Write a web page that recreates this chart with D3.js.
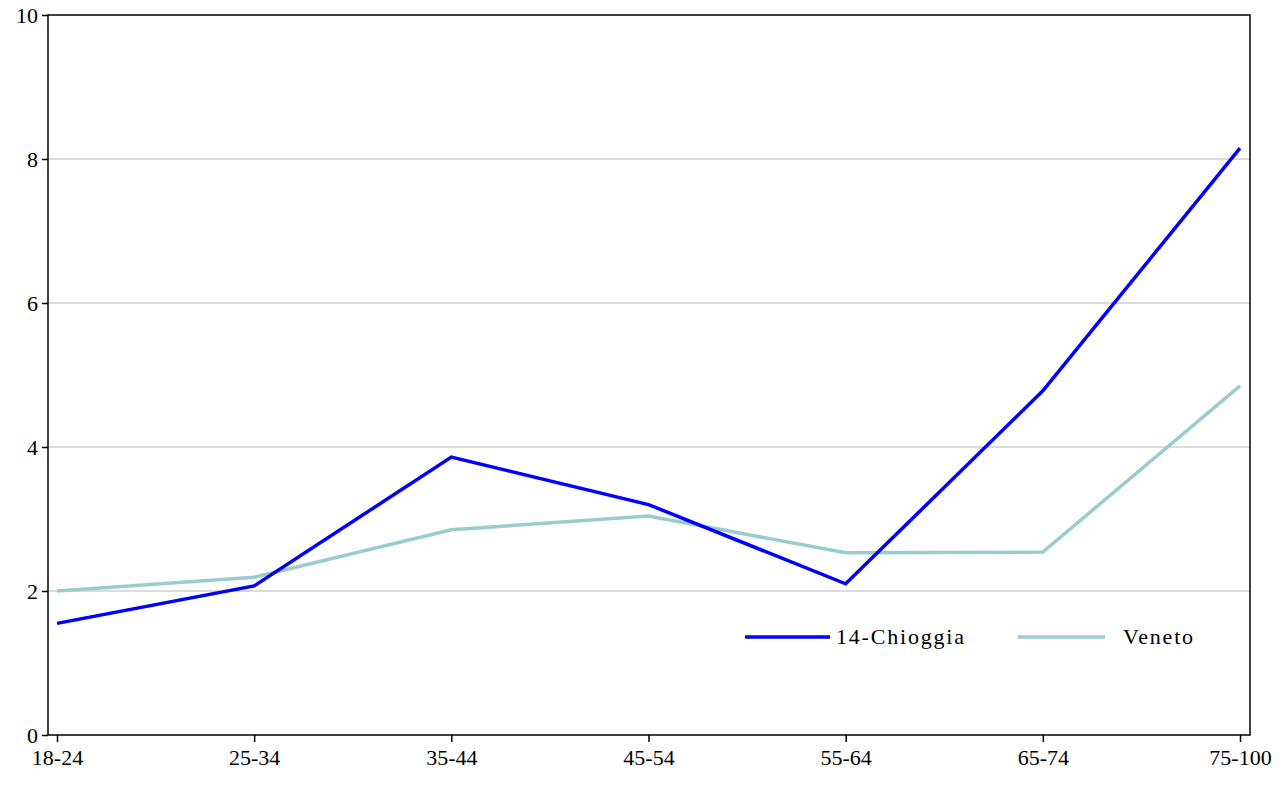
<!DOCTYPE html>
<html>
<head>
<meta charset="UTF-8">
<script src="https://cdn.jsdelivr.net/npm/d3@7"></script>
<style>
  body { margin: 0; background: #fff; }
  text { font-family: 'Liberation Serif', 'Times New Roman', serif; }
</style>
</head>
<body>
<svg id="chart" width="1286" height="787"></svg>
<script>
const categories = ["18-24", "25-34", "35-44", "45-54", "55-64", "65-74", "75-100"];
const chioggia = [1.55, 2.07, 3.86, 3.2, 2.1, 4.78, 8.15];
const veneto = [2.0, 2.19, 2.85, 3.04, 2.53, 2.54, 4.85];
const yTicks = [0, 2, 4, 6, 8, 10];

const svg = d3.select("#chart");
const mLeft = 48, mRight = 1250, mTop = 15, mBottom = 735;

const x = d3.scalePoint().domain(categories).range([57, 1240]);
const y = d3.scaleLinear().domain([0, 10]).range([mBottom, mTop]);

// grid
svg.append("g").selectAll("line").data(yTicks.filter(d => d > 0 && d < 10)).join("line")
    .attr("x1", mLeft).attr("x2", mRight)
    .attr("y1", d => y(d)).attr("y2", d => y(d))
    .attr("stroke", "#d0d0d0").attr("stroke-width", 1.5);

// axes
const yAxis = svg.append("g").attr("transform", `translate(${mLeft},0)`)
    .call(d3.axisLeft(y).tickValues(yTicks).tickSize(6).tickPadding(4));
const xAxis = svg.append("g").attr("transform", `translate(0,${mBottom})`)
    .call(d3.axisBottom(x).tickSize(7).tickPadding(7));
[yAxis, xAxis].forEach(g => {
    g.select(".domain").remove();
    g.selectAll("line").attr("stroke", "#000").attr("stroke-width", 1.5);
    g.selectAll("text").attr("font-size", 22).attr("fill", "#000")
        .style("font-family", "'Liberation Serif', serif");
});

// frame
svg.append("rect").attr("x", mLeft).attr("y", mTop)
    .attr("width", mRight - mLeft).attr("height", mBottom - mTop)
    .attr("fill", "none").attr("stroke", "#000").attr("stroke-width", 1.5);

const line = d3.line().x((d, i) => x(categories[i])).y(d => y(d));
svg.append("path").datum(veneto).attr("d", line)
    .attr("fill", "none").attr("stroke", "#99cccc").attr("stroke-width", 3.5);
svg.append("path").datum(chioggia).attr("d", line)
    .attr("fill", "none").attr("stroke", "#0000ff").attr("stroke-width", 3.5);

// legend
const legend = [
    { name: "14-Chioggia", color: "#0000ff", x1: 745, x2: 830, tx: 836 },
    { name: "Veneto", color: "#99cccc", x1: 1018, x2: 1105, tx: 1123 }
];
legend.forEach(l => {
    svg.append("line").attr("x1", l.x1).attr("x2", l.x2).attr("y1", 637).attr("y2", 637)
        .attr("stroke", l.color).attr("stroke-width", 3.5);
    svg.append("text").attr("x", l.tx).attr("y", 644).attr("font-size", 22)
        .attr("letter-spacing", 1.8).text(l.name);
});
</script>
</body>
</html>
